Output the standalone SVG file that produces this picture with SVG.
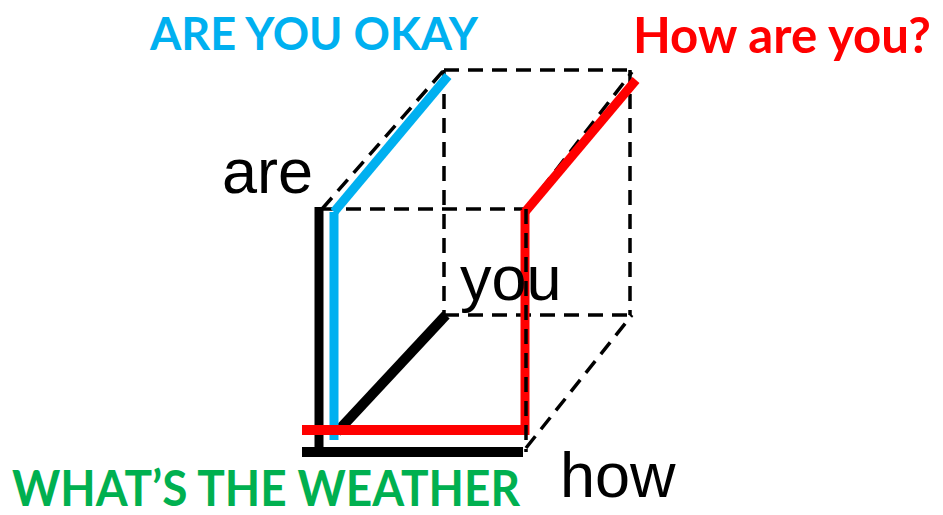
<svg xmlns="http://www.w3.org/2000/svg" width="943" height="515" viewBox="0 0 943 515">
<style>
.dash{stroke:#000;stroke-width:3.5;stroke-dasharray:15 9;fill:none}
.thick{stroke-width:9;fill:none;stroke-linecap:butt}
.lbl{font-family:"Liberation Sans",Arial,sans-serif;font-size:63px;fill:#000}
.big{font-family:Lato,"Open Sans",sans-serif;font-weight:bold;font-size:48px}
</style>
<rect width="943" height="515" fill="#fff"/>
<g id="connectors">
<g id="dashed-edges">
<line class="dash" x1="444" y1="70" x2="632" y2="70"/>
<line class="dash" x1="444" y1="70" x2="444" y2="315"/>
<line class="dash" x1="444" y1="315" x2="632" y2="315"/>
<line class="dash" x1="630" y1="70" x2="630" y2="315"/>
<line class="dash" x1="322" y1="209" x2="526" y2="209"/>
<line class="dash" x1="322" y1="209" x2="444" y2="70"/>
<line class="dash" x1="526" y1="209" x2="632" y2="72"/>
</g>
<g id="black-path">
<line class="thick" stroke="#000" x1="319" y1="207" x2="319" y2="452"/>
<line class="thick" stroke="#000" x1="302" y1="452" x2="523" y2="452" style="stroke-width:10"/>
<line class="thick" stroke="#000" x1="337" y1="432" x2="446" y2="315" style="stroke-width:10"/>
</g>
<g id="blue-path">
<line class="thick" stroke="#00B0F0" x1="334" y1="212" x2="334" y2="440"/>
<line class="thick" stroke="#00B0F0" x1="334" y1="212" x2="448" y2="76"/>
</g>
<g id="red-path">
<line class="thick" stroke="#FF0000" x1="302" y1="430" x2="529" y2="430" style="stroke-width:10"/>
<line class="thick" stroke="#FF0000" x1="525" y1="210" x2="525" y2="435"/>
<line class="thick" stroke="#FF0000" x1="525" y1="212" x2="636" y2="80"/>
</g>
<line class="dash" x1="526" y1="209" x2="526" y2="452"/>
<line class="dash" x1="526" y1="448" x2="632" y2="315"/>
</g>
<g id="node-are-you-okay"><text class="big" x="150" y="50" fill="#00B0F0" style="font-size:46px" textLength="328" lengthAdjust="spacingAndGlyphs">ARE YOU OKAY</text></g>
<g id="node-how-are-you"><text class="big" x="633" y="53" fill="#FF0000" style="font-size:50px" textLength="298" lengthAdjust="spacingAndGlyphs">How are you?</text></g>
<g id="node-whats-the-weather"><text class="big" x="12" y="506" fill="#00B050" style="font-size:49px" textLength="508" lengthAdjust="spacingAndGlyphs">WHAT’S THE WEATHER</text></g>
<g id="node-are"><text class="lbl" x="222" y="193">are</text></g>
<g id="node-you"><text class="lbl" x="460" y="300">you</text></g>
<g id="node-how"><text class="lbl" x="560" y="497">how</text></g>
</svg>
